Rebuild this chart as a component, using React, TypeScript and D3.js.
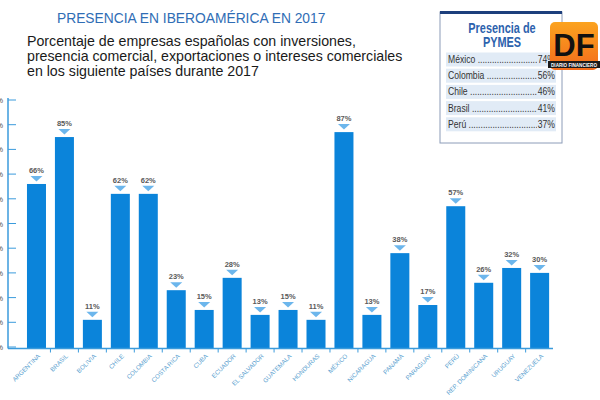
import React from "react";
import * as d3 from "d3";

const countries = [
  "ARGENTINA", "BRASIL", "BOLIVIA", "CHILE", "COLOMBIA", "COSTA RICA", "CUBA",
  "ECUADOR", "EL SALVADOR", "GUATEMALA", "HONDURAS", "MÉXICO", "NICARAGUA",
  "PANAMÁ", "PARAGUAY", "PERÚ", "REP. DOMINICANA", "URUGUAY", "VENEZUELA",
];
const presence = [66, 85, 11, 62, 62, 23, 15, 28, 13, 15, 11, 87, 13, 38, 17, 57, 26, 32, 30];
const yTicks = [0, 10, 20, 30, 40, 50, 60, 70, 80, 90, 100];

const pymeCountries = ["México", "Colombia", "Chile", "Brasil", "Perú"];
const pymeValues = [74, 56, 46, 41, 37];

const titleText = "PRESENCIA EN IBEROAMÉRICA EN 2017";
const subtitleLines = [
  "Porcentaje de empresas españolas con inversiones,",
  "presencia comercial, exportaciones o intereses comerciales",
  "en los siguiente países durante 2017",
];

const W = 600;
const H = 400;
const BAR = "#0b84da";
const MARKER = "#6cb6ec";
const AXIS = "#3b9bdc";
const SANS = "'Liberation Sans', Arial, sans-serif";

export default function App() {
  const x = d3
    .scaleBand<string>()
    .domain(countries)
    .range([22.5, 553.6])
    .paddingInner(0.32)
    .paddingOuter(0.16);
  const y = d3.scaleLinear().domain([0, 100]).range([347, 100]);
  const base = y(0) + 1.5;
  const gap = x.step() - x.bandwidth();

  const rowY = (i: number) => 52.5 + i * 16.2;

  return (
    <svg
      width={W}
      height={H}
      style={{ position: "absolute", left: 0, top: 0, background: "#fff" }}
      fontFamily={SANS}
    >
      <defs>
        <linearGradient id="dfGrad" x1="0" y1="0" x2="0" y2="1">
          <stop offset="0" stopColor="#fba31f" />
          <stop offset="1" stopColor="#f36b1c" />
        </linearGradient>
        <clipPath id="leaderClip">
          <rect x={446} y={0} width={91} height={H} />
        </clipPath>
      </defs>

      {/* headings */}
      <text x={57} y={23} fontSize={13.8} fill="#2f6db5">
        {titleText}
      </text>
      {subtitleLines.map((l, i) => (
        <text key={i} x={27} y={46 + i * 15} fontSize={14.2} fill="#1a1a1a">
          {l}
        </text>
      ))}

      {/* y axis */}
      <line x1={8} x2={8} y1={98} y2={base} stroke={AXIS} strokeWidth={1.5} />
      {yTicks.map((t) => (
        <g key={t}>
          <line x1={8} x2={16} y1={y(t)} y2={y(t)} stroke={AXIS} strokeWidth={1} />
          <text x={3} y={y(t) + 3} fontSize={8} textAnchor="end" fill="#555">
            {t}%
          </text>
        </g>
      ))}

      {/* bars with value markers */}
      {countries.map((c, i) => {
        const v = presence[i];
        const bx = x(c)!;
        const bw = x.bandwidth();
        const cx = bx + bw / 2;
        const top = y(v);
        return (
          <g key={c}>
            <rect x={bx} y={top} width={bw} height={base - top} fill={BAR} />
            <path
              d={`M${cx - 6},${top - 8} L${cx + 6},${top - 8} L${cx},${top - 2.5} Z`}
              fill={MARKER}
            />
            <text
              x={cx}
              y={top - 11}
              fontSize={7.5}
              fontWeight="bold"
              textAnchor="middle"
              fill="#5a5a5a"
            >
              {v}%
            </text>
          </g>
        );
      })}

      {/* x axis */}
      <line x1={8} x2={553} y1={base} y2={base} stroke={AXIS} strokeWidth={1.5} />
      {countries.map((c, i) =>
        i === 0 ? null : (
          <line
            key={"t" + c}
            x1={x(c)! - gap / 2}
            x2={x(c)! - gap / 2}
            y1={base}
            y2={base + 4}
            stroke={AXIS}
            strokeWidth={1}
          />
        )
      )}
      {countries.map((c) => {
        const cx = x(c)! + x.bandwidth() / 2 + 4;
        return (
          <text
            key={"l" + c}
            transform={`translate(${cx},${base + 8}) rotate(-45)`}
            fontSize={6.2}
            textAnchor="end"
            fill="#5b9fd0"
          >
            {c}
          </text>
        );
      })}

      {/* PYMES box */}
      <rect x={440} y={12} width={122} height={131} fill="#fff" stroke="#8c9cb8" strokeWidth={1} />
      <rect x={440} y={11} width={122} height={3} fill="#1d3f7c" />
      <text transform="translate(502,33) scale(0.78,1)" fontSize={14} fontWeight="bold"
        textAnchor="middle" fill="#2c62ad">
        Presencia de
      </text>
      <text transform="translate(502,47) scale(0.78,1)" fontSize={14} fontWeight="bold"
        textAnchor="middle" fill="#2c62ad">
        PYMES
      </text>
      {pymeCountries.map((c, i) => {
        const ry = rowY(i);
        return (
          <g key={c}>
            <rect x={446} y={ry} width={110} height={14} fill="#e1ebf6" />
            <g clipPath="url(#leaderClip)">
              <text transform={`translate(448,${ry + 10.5}) scale(0.82,1)`} fontSize={10.5}
                fill="#333">
                {c + " " + ".".repeat(60)}
              </text>
            </g>
            <text transform={`translate(555,${ry + 10.5}) scale(0.82,1)`} fontSize={10.5}
              textAnchor="end" fill="#333">
              {pymeValues[i]}%
            </text>
          </g>
        );
      })}

      {/* DF logo */}
      <rect x={550} y={22} width={48} height={48} rx={5} fill="url(#dfGrad)" />
      <text x={574} y={56} fontSize={31} fontWeight="bold" textAnchor="middle" fill="#111">
        DF
      </text>
      <rect x={548} y={61} width={52} height={7} fill="#1a1a1a" />
      <text x={574} y={66.5} fontSize={4.6} fontWeight="bold" textAnchor="middle" fill="#fff">
        DIARIO FINANCIERO
      </text>
    </svg>
  );
}
